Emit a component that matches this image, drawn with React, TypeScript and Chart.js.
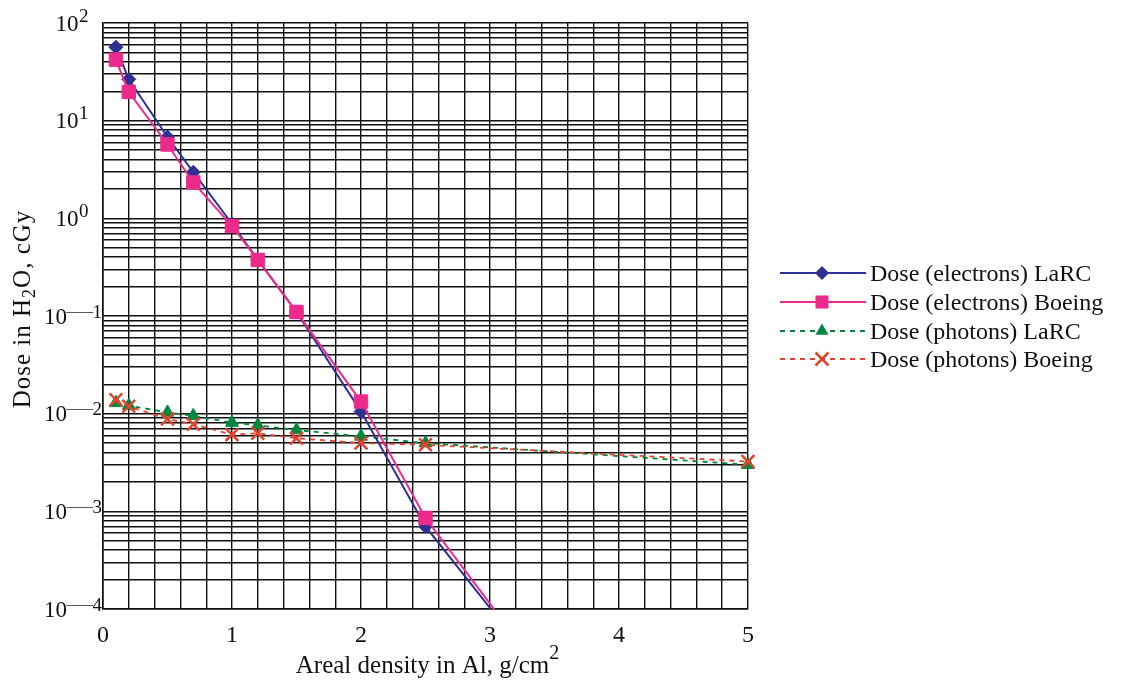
import React, { useEffect, useRef } from 'react';
import { Chart, registerables } from 'chart.js';

Chart.register(...registerables);

const FONT = "'Liberation Serif', 'Times New Roman', serif";

// Areal density (g/cm^2)
const xElectrons = [0.1, 0.2, 0.5, 0.7, 1.0, 1.2, 1.5, 2.0, 2.5, 3.5];
const xPhotons = [0.1, 0.2, 0.5, 0.7, 1.0, 1.2, 1.5, 2.0, 2.5, 5.0];

// Dose in H2O (cGy)
const electronsLaRC = [56.5, 26.5, 6.8, 2.97, 0.88, 0.375, 0.11, 0.0105, 0.0007, 1.5e-5];
const electronsBoeing = [42.2, 19.7, 5.7, 2.33, 0.834, 0.375, 0.11, 0.0133, 0.000855, 1.5e-5];
const photonsLaRC = [0.0129, 0.0121, 0.0103, 0.0095, 0.0081, 0.0076, 0.0068, 0.00585, 0.005, 0.003];
const photonsBoeing = [0.0139, 0.0119, 0.0088, 0.0078, 0.0061, 0.0063, 0.0056, 0.005, 0.0048, 0.00324];

const seriesLabels = [
  'Dose (electrons) LaRC',
  'Dose (electrons) Boeing',
  'Dose (photons) LaRC',
  'Dose (photons) Boeing',
];
const seriesColors = ['#2E3192', '#EC2A8C', '#00873E', '#E2432C'];

const yDecadeExponents = [-4, -3, -2, -1, 0, 1, 2];
const xTickValues = [0, 1, 2, 3, 4, 5];
const xTitle = 'Areal density in Al, g/cm';
const xTitleSup = '2';
const yTitleParts = ['Dose in H', '2', 'O, cGy'];

const yGridValues: number[] = [];
for (let e = -4; e < 2; e++) {
  for (let m = 1; m <= 9; m++) yGridValues.push(m * Math.pow(10, e));
}
yGridValues.push(100);

function pts(xs: number[], ys: number[]) {
  return xs.map((x, i) => ({ x, y: ys[i] }));
}

function drawMarker(ctx: CanvasRenderingContext2D, kind: number, x: number, y: number, color: string) {
  ctx.save();
  ctx.fillStyle = color;
  ctx.strokeStyle = color;
  ctx.setLineDash([]);
  ctx.beginPath();
  if (kind === 0) {
    const r = 7;
    ctx.moveTo(x - r, y);
    ctx.lineTo(x, y - r);
    ctx.lineTo(x + r, y);
    ctx.lineTo(x, y + r);
    ctx.closePath();
    ctx.fill();
  } else if (kind === 1) {
    ctx.rect(x - 6.5, y - 6.5, 13, 13);
    ctx.fill();
  } else if (kind === 2) {
    const r = 7.5;
    ctx.moveTo(x, y - r);
    ctx.lineTo(x + r * 0.866, y + r * 0.5);
    ctx.lineTo(x - r * 0.866, y + r * 0.5);
    ctx.closePath();
    ctx.fill();
  } else {
    const r = 6.5;
    ctx.lineWidth = 2.5;
    ctx.moveTo(x - r, y - r);
    ctx.lineTo(x + r, y + r);
    ctx.moveTo(x + r, y - r);
    ctx.lineTo(x - r, y + r);
    ctx.stroke();
  }
  ctx.restore();
}

const overlayPlugin = {
  id: 'overlay',
  afterDraw(chart: any) {
    const ctx: any = chart.ctx;
    const ys = chart.scales.y;
    const area = chart.chartArea;
    ctx.save();
    ctx.fillStyle = '#111';
    ctx.textBaseline = 'alphabetic';

    // y tick labels 10^n
    for (const e of yDecadeExponents) {
      const py = ys.getPixelForValue(Math.pow(10, e));
      if (e >= 0) {
        ctx.font = `23px ${FONT}`;
        ctx.textAlign = 'right';
        ctx.fillText('10', 78.5, py + 7.5);
        ctx.font = `19px ${FONT}`;
        ctx.textAlign = 'left';
        ctx.fillText(String(e), 79, py - 1.5);
      } else {
        const digit = String(-e);
        ctx.font = `19px ${FONT}`;
        ctx.textAlign = 'right';
        ctx.fillText(digit, 102, py + 1.5);
        const dw = ctx.measureText(digit).width;
        // long superscript minus
        ctx.save();
        ctx.fillStyle = '#555';
        ctx.translate(102.5 - dw, py + 0.5);
        ctx.scale(1.4, 1);
        ctx.textAlign = 'right';
        ctx.fillText('\u2014', 0, 0);
        ctx.restore();
        ctx.font = `23px ${FONT}`;
        ctx.textAlign = 'right';
        ctx.fillText('10', 67, py + 7.5);
      }
    }

    // x axis title
    {
      ctx.font = `25px ${FONT}`;
      const w1 = ctx.measureText(xTitle).width;
      ctx.font = `20px ${FONT}`;
      const w2 = ctx.measureText(xTitleSup).width;
      const cx = (area.left + area.right) / 2 + 2;
      const start = cx - (w1 + w2) / 2;
      ctx.textAlign = 'left';
      ctx.font = `25px ${FONT}`;
      ctx.fillText(xTitle, start, 673);
      ctx.font = `20px ${FONT}`;
      ctx.fillText(xTitleSup, start + w1, 659);
    }

    // y axis title
    {
      ctx.save();
      ctx.translate(30, 309);
      ctx.rotate(-Math.PI / 2);
      ctx.textAlign = 'left';
      ctx.letterSpacing = '1px';
      ctx.font = `25px ${FONT}`;
      const a = ctx.measureText(yTitleParts[0]).width;
      const c = ctx.measureText(yTitleParts[2]).width;
      ctx.font = `18px ${FONT}`;
      const b = ctx.measureText(yTitleParts[1]).width;
      let x = -(a + b + c) / 2;
      ctx.font = `25px ${FONT}`;
      ctx.fillText(yTitleParts[0], x, 0);
      x += a;
      ctx.font = `18px ${FONT}`;
      ctx.fillText(yTitleParts[1], x, 5);
      x += b;
      ctx.font = `25px ${FONT}`;
      ctx.fillText(yTitleParts[2], x, 0);
      ctx.restore();
    }

    // legend
    const rows = [273, 302, 331, 359];
    for (let i = 0; i < 4; i++) {
      const ry = rows[i];
      ctx.save();
      ctx.strokeStyle = seriesColors[i];
      ctx.lineWidth = i < 2 ? 2 : 1.8;
      ctx.setLineDash(i < 2 ? [] : [5, 5]);
      ctx.beginPath();
      ctx.moveTo(780, ry);
      ctx.lineTo(866, ry);
      ctx.stroke();
      ctx.restore();
      drawMarker(ctx, i, 822, ry, seriesColors[i]);
      ctx.fillStyle = '#111';
      ctx.font = `24px ${FONT}`;
      ctx.textAlign = 'left';
      ctx.fillText(seriesLabels[i], 870, ry + 8);
    }
    ctx.restore();
  },
};

export default function App() {
  const canvasRef = useRef<HTMLCanvasElement | null>(null);

  useEffect(() => {
    const canvas = canvasRef.current;
    if (!canvas) return;
    const chart = new Chart(canvas, {
      type: 'line',
      data: {
        datasets: [
          {
            label: seriesLabels[0],
            data: pts(xElectrons, electronsLaRC),
            borderColor: seriesColors[0],
            backgroundColor: seriesColors[0],
            borderWidth: 2,
            pointStyle: 'rectRot',
            pointRadius: 7,
            pointBorderWidth: 1,
            clip: 0,
            order: 1,
          },
          {
            label: seriesLabels[1],
            data: pts(xElectrons, electronsBoeing),
            borderColor: seriesColors[1],
            backgroundColor: seriesColors[1],
            borderWidth: 2,
            pointStyle: 'rect',
            pointRadius: 9.5,
            pointBorderWidth: 1,
            clip: 0,
            order: 0,
          },
          {
            label: seriesLabels[2],
            data: pts(xPhotons, photonsLaRC),
            borderColor: seriesColors[2],
            backgroundColor: seriesColors[2],
            borderWidth: 1.8,
            borderDash: [5, 5],
            pointStyle: 'triangle',
            pointRadius: 7.5,
            pointBorderWidth: 1,
            clip: false,
            order: 3,
          },
          {
            label: seriesLabels[3],
            data: pts(xPhotons, photonsBoeing),
            borderColor: seriesColors[3],
            backgroundColor: seriesColors[3],
            borderWidth: 1.8,
            borderDash: [5, 5],
            pointStyle: 'crossRot',
            pointRadius: 9,
            pointBorderWidth: 2.5,
            clip: false,
            order: 2,
          },
        ],
      },
      options: {
        responsive: false,
        animation: false,
        devicePixelRatio: 1,
        layout: { padding: { left: 0, top: 23, right: 376, bottom: 0 } },
        plugins: {
          legend: { display: false },
          tooltip: { enabled: false },
        },
        elements: { line: { tension: 0 } },
        scales: {
          x: {
            type: 'linear',
            min: 0,
            max: 5,
            afterBuildTicks: (scale: any) => {
              const t: any[] = [];
              for (let i = 0; i <= 25; i++) t.push({ value: i / 5 });
              scale.ticks = t;
            },
            afterFit: (scale: any) => {
              scale.height = 72;
            },
            ticks: {
              autoSkip: false,
              maxRotation: 0,
              minRotation: 0,
              padding: 12,
              color: '#111',
              font: { family: FONT, size: 24 },
              callback: (v: any) => {
                const n = Number(v);
                const r = Math.round(n);
                return Math.abs(n - r) < 1e-6 && xTickValues.includes(r) ? String(r) : '';
              },
            },
            grid: { color: '#111', lineWidth: 1.4, drawTicks: false },
            border: { display: true, color: '#111', width: 1.6 },
          },
          y: {
            type: 'logarithmic',
            min: 1e-4,
            max: 100,
            afterBuildTicks: (scale: any) => {
              scale.ticks = yGridValues.map((v) => ({ value: v }));
            },
            afterFit: (scale: any) => {
              scale.width = 103;
            },
            ticks: { display: false, autoSkip: false },
            grid: { color: '#111', lineWidth: 1.4, drawTicks: false },
            border: { display: true, color: '#111', width: 1.6 },
          },
        },
      } as any,
      plugins: [overlayPlugin],
    });
    return () => chart.destroy();
  }, []);

  return (
    <div style={{ position: 'fixed', left: 0, top: 0, width: 1124, height: 681, background: '#fff' }}>
      <canvas ref={canvasRef} width={1124} height={681} style={{ display: 'block' }} />
    </div>
  );
}
